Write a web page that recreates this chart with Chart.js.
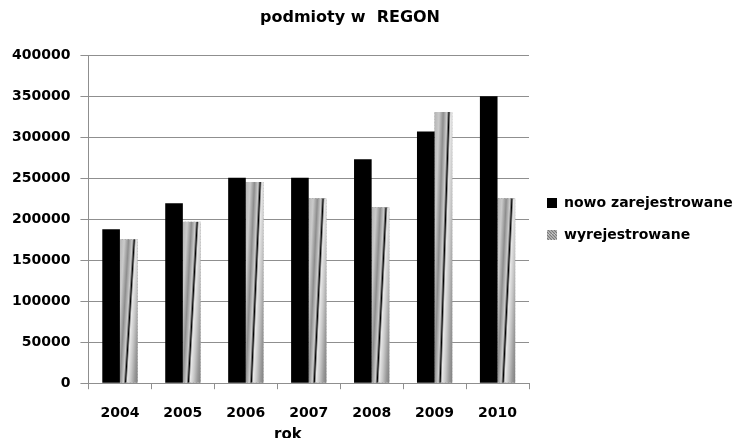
<!DOCTYPE html>
<html>
<head>
<meta charset="utf-8">
<script src="https://cdn.jsdelivr.net/npm/chart.js@4"></script>
<style>
  html, body { margin: 0; padding: 0; background: #fff; }
  #wrap { width: 737px; height: 438px; }
</style>
</head>
<body>
<div id="wrap"><canvas id="chart" width="737" height="438"></canvas></div>
<script>
const years = ["2004", "2005", "2006", "2007", "2008", "2009", "2010"];
const registered = [187600, 219300, 250600, 250600, 273000, 307100, 350000];
const deregistered = [175500, 197000, 245300, 225400, 214500, 330600, 225400];
const yTicks = [0, 50000, 100000, 150000, 200000, 250000, 300000, 350000, 400000];

const fontFamily = "'DejaVu Sans', sans-serif";
const lineGrey = "#8f8f8f";
const nbsp = "\u00a0";

// small striped tile, used for the legend swatch of the grey series
function stripes() {
    const c = document.createElement("canvas");
    c.width = 6; c.height = 6;
    const g = c.getContext("2d");
    g.fillStyle = "#e6e6e6";
    g.fillRect(0, 0, 6, 6);
    g.strokeStyle = "#7a7a7a";
    g.lineWidth = 1.5;
    for (let i = -6; i <= 6; i += 3) {
        g.beginPath();
        g.moveTo(i, 0);
        g.lineTo(i + 6, 6);
        g.stroke();
    }
    return g.createPattern(c, "repeat");
}

// slanted metallic shading on top of the grey bars
const shadeBars = {
    id: "shadeBars",
    afterDatasetDraw(chart, args) {
        if (args.index !== 1) return;
        const ctx = chart.ctx;
        args.meta.data.forEach(bar => {
            const p = bar.getProps(["x", "y", "base", "width"], true);
            const w = p.width;
            const left = p.x - w / 2;
            const top = Math.min(p.y, p.base);
            const h = Math.abs(p.base - p.y);
            if (h < 1) return;
            const shift = 0.5 * w;
            const span = w + shift;
            ctx.save();
            ctx.beginPath();
            ctx.rect(left, top, w, h);
            ctx.clip();
            ctx.translate(left, top);
            ctx.transform(1, 0, -shift / h, 1, 0, 0);
            const g = ctx.createLinearGradient(0, 0, span, 0);
            const stops = [
                [0, "#b4b4b4"], [0.17, "#cacaca"], [0.33, "#8e8e8e"],
                [0.47, "#cdcdcd"], [0.52, "#555"], [0.545, "#000"],
                [0.57, "#6a6a6a"], [0.61, "#e8e8e8"], [0.74, "#c6c6c6"],
                [0.88, "#9a9a9a"], [1, "#808080"]
            ];
            stops.forEach(s => g.addColorStop(s[0], s[1]));
            ctx.fillStyle = g;
            ctx.fillRect(-2, 0, span + 4, h);
            ctx.restore();
        });
    }
};

const whiteBg = {
    id: "whiteBg",
    beforeDraw(chart) {
        const ctx = chart.ctx;
        ctx.save();
        ctx.fillStyle = "#fff";
        ctx.fillRect(0, 0, chart.width, chart.height);
        ctx.restore();
    }
};

new Chart(document.getElementById("chart"), {
    type: "bar",
    data: {
        labels: years,
        datasets: [
            { label: "nowo zarejestrowane", data: registered, backgroundColor: "#000" },
            { label: "wyrejestrowane", data: deregistered, backgroundColor: stripes() }
        ]
    },
    options: {
        responsive: false,
        animation: false,
        devicePixelRatio: 1,
        categoryPercentage: 0.56,
        barPercentage: 1,
        layout: { padding: { left: 2, right: 0, top: 0, bottom: 0 } },
        plugins: {
            title: {
                display: true,
                text: "podmioty w  REGON" + nbsp.repeat(7),
                color: "#000",
                font: { family: fontFamily, size: 16, weight: "bold" },
                padding: { top: 8, bottom: 28 }
            },
            legend: {
                position: "right",
                maxWidth: 208,
                labels: {
                    color: "#000",
                    boxWidth: 10,
                    boxHeight: 10,
                    padding: 18,
                    font: { family: fontFamily, size: 14, weight: "bold" }
                }
            },
            tooltip: { enabled: false }
        },
        scales: {
            x: {
                grid: { offset: true, drawOnChartArea: false, tickLength: 6, color: lineGrey },
                border: { color: lineGrey },
                ticks: {
                    color: "#000",
                    padding: 16,
                    font: { family: fontFamily, size: 14, weight: "bold" }
                },
                title: {
                    display: true,
                    text: "rok" + nbsp.repeat(8),
                    color: "#000",
                    padding: { top: -12, bottom: -6 },
                    font: { family: fontFamily, size: 15, weight: "bold" }
                }
            },
            y: {
                min: 0,
                max: 400000,
                grid: { color: lineGrey, tickLength: 8 },
                border: { color: lineGrey },
                afterBuildTicks(axis) {
                    axis.ticks = yTicks.map(v => ({ value: v }));
                },
                ticks: {
                    color: "#000",
                    padding: 10,
                    font: { family: fontFamily, size: 14, weight: "bold" },
                    callback: v => String(v)
                }
            }
        }
    },
    plugins: [whiteBg, shadeBars]
});
</script>
</body>
</html>
